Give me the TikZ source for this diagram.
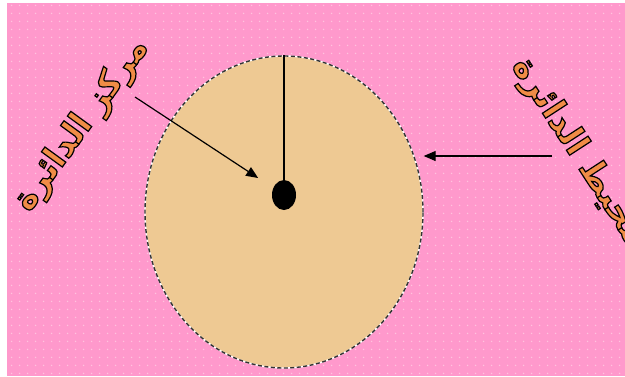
\documentclass[tikz,border=0pt]{standalone}
\usepackage{fontspec}
\newfontfamily\arabicfont[Script=Arabic]{DejaVu Sans}
\TeXXeTstate=1
\usetikzlibrary{shapes.geometric, arrows.meta, patterns.meta}
\definecolor{bgpink}{HTML}{FF99CC}
\definecolor{dotpink}{HTML}{FFC4DE}
\definecolor{papyrus}{HTML}{EEC993}
\definecolor{labelorange}{HTML}{F08C46}
\newcommand{\outlined}[1]{\special{pdf:literal 2 Tr 0 G 1.2 w}#1\special{pdf:literal 0 Tr}}
\tikzdeclarepattern{name=pinkdots, type=uncolored,
  bounding box={(0pt,0pt) and (8pt,8pt)}, tile size={(8pt,8pt)},
  code={\fill (4pt,4pt) circle (0.9pt);}}

\begin{document}
\begin{tikzpicture}[x=1pt, y=-1pt,
    arlabel/.style={font=\arabicfont\bfseries\fontsize{34}{34}\selectfont,
                    text=labelorange, inner sep=0pt},
    pointer/.style={-{Triangle[length=12pt, width=10pt]}, line width=1.2pt}
]
    \useasboundingbox (0,0) rectangle (625,376);
    \fill[white] (0,0) rectangle (625,376);

    % Pink background
    \fill[bgpink] (7,3) rectangle (625,376);
    \fill[pattern={pinkdots}, pattern color=dotpink] (7,3) rectangle (625,376);

    % Circle and its centre
    \node[ellipse, minimum width=278pt, minimum height=312pt, fill=papyrus,
          draw=white, line width=1.4pt,
          postaction={draw=black!80, dash pattern=on 4pt off 2.5pt, line width=1.4pt}] (circ) at (284,212) {};
    \node[ellipse, fill=black, minimum width=24pt, minimum height=30pt, inner sep=0pt] (centre) at (284,195) {};
    \draw[line width=1.2pt] (circ.north) -- (centre);

    % Labels
    \node[arlabel, rotate=54] (centrelabel) at (82,125) {\outlined{\beginR مركز الدائرة\endR}};
    \node[arlabel, rotate=-57] (rimlabel) at (578,152) {\outlined{\beginR محيط الدائرة\endR}};

    % Pointers
    \coordinate (centretail) at (135,97);
    \coordinate (rimtail) at (552,156);
    \draw[pointer, shorten >=18pt] (centretail) -- (centre);
    \draw[pointer] (rimtail) -- (rimtail -| circ.east);
\end{tikzpicture}
\end{document}
